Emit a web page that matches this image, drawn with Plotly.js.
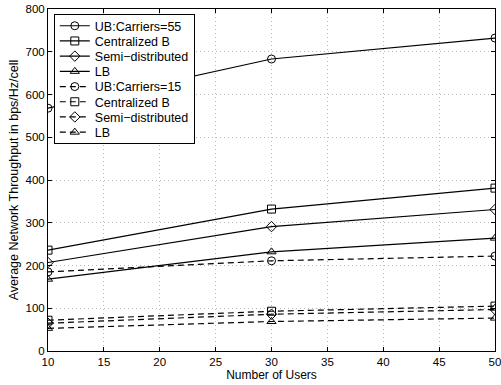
<!DOCTYPE html>
<html><head><meta charset="utf-8">
<script src="https://cdn.plot.ly/plotly-3.0.1.min.js"></script>
<style>body{margin:0;padding:0;background:#fff}#plot{width:501px;height:385px}</style>
</head><body><div id="plot"></div>
<script>
const users = [10, 30, 50];
const seriesNames = ["UB:Carriers=55","Centralized B","Semi\u2212distributed","LB","UB:Carriers=15","Centralized B","Semi\u2212distributed","LB"];
const ub55 = [568, 683, 732];
const cent55 = [236, 332, 381];
const semi55 = [207, 291, 331];
const lb55 = [168, 232, 264];
const ub15 = [185, 211, 222];
const cent15 = [72, 93, 105];
const semi15 = [65, 86, 97];
const lb15 = [53, 69, 77];
const xTicks = [10,15,20,25,30,35,40,45,50];
const yTicks = [0,100,200,300,400,500,600,700,800];

const symbols = ['circle-open','square-open','diamond-open','triangle-up-open'];
const allY = [ub55, cent55, semi55, lb55, ub15, cent15, semi15, lb15];
const traces = allY.map((y, i) => ({
  x: users, y: y, name: seriesNames[i], type: 'scatter', mode: 'lines+markers',
  line: {color: '#000', width: 1.2, dash: i < 4 ? 'solid' : '6px,4px'},
  marker: {symbol: symbols[i % 4], size: 8, color: '#000', line: {color: '#000', width: 1}}
}));

const FONT = 'Liberation Sans, Arial, sans-serif';
const axBase = {
  showline: true, linecolor: '#000', linewidth: 1, mirror: 'ticks',
  ticks: 'inside', ticklen: 4, tickcolor: '#000', tickwidth: 1,
  showgrid: true, gridcolor: '#b8b8b8', griddash: '1px,3px', gridwidth: 1,
  zeroline: false, ticklabeloverflow: 'allow',
  tickfont: {family: FONT, size: 11.5, color: '#000'}
};
const layout = {
  width: 501, height: 385,
  margin: {l: 48, r: 6, t: 9, b: 34},
  paper_bgcolor: '#fff', plot_bgcolor: '#fff',
  font: {family: FONT, size: 12, color: '#000'},
  xaxis: Object.assign({}, axBase, {range: [10, 50], tickvals: xTicks, ticktext: xTicks.map(String),
    title: {text: 'Number of Users', font: {size: 12}, standoff: 1}}),
  yaxis: Object.assign({}, axBase, {range: [0, 800], tickvals: yTicks, ticktext: yTicks.map(String),
    title: {text: 'Average Network Throughput in bps/Hz/cell', font: {size: 12.5}, standoff: 4}}),
  showlegend: true,
  legend: {x: 0.013, y: 0.985, xanchor: 'left', yanchor: 'top', bgcolor: '#fff',
    bordercolor: '#000', borderwidth: 1, font: {size: 12.5, color: '#000'}, tracegroupgap: 0}
};
Plotly.newPlot('plot', traces, layout, {displayModeBar: false, staticPlot: true}).then(gd => {
  // tighten the legend row spacing to match the compact reference legend
  try {
    const leg = gd.querySelector('g.legend');
    if (!leg) return;
    const items = Array.from(leg.querySelectorAll('g.traces'));
    if (items.length < 2) return;
    const parse = t => { const m = /translate\(\s*([-\d.]+)[ ,]+([-\d.]+)/.exec(t || ''); return m ? [parseFloat(m[1]), parseFloat(m[2])] : null; };
    const p0 = parse(items[0].getAttribute('transform'));
    const p1 = parse(items[1].getAttribute('transform'));
    if (!p0 || !p1) return;
    const oldStep = p1[1] - p0[1];
    const step = 15.2;
    const top0 = p0[1] - 4;
    items.forEach((g, i) => {
      const p = parse(g.getAttribute('transform'));
      g.setAttribute('transform', 'translate(' + p[0] + ',' + (top0 + i * step) + ')');
    });
    const bg = leg.querySelector('rect.bg');
    if (bg) {
      const h = parseFloat(bg.getAttribute('height'));
      bg.setAttribute('height', h - (items.length - 1) * (oldStep - step) - 8);
    }
  } catch (e) {}
});
</script></body></html>
